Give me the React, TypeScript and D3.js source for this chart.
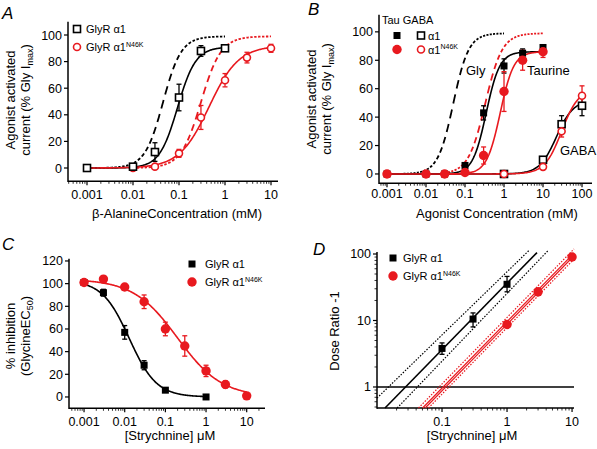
import React from 'react';
import * as d3 from 'd3';

const RED = '#e8191f';
const FONT = '"Liberation Sans", Arial, Helvetica, sans-serif';

// ---------- Panel A: beta-alanine ----------
const aWtConc = [0.001, 0.01, 0.03, 0.1, 0.3, 1];
const aWtMean = [0, 1, 12, 53, 88, 90];
const aWtErr = [0.5, 1.5, 7, 10, 4, 2];
const aMutConc = [0.01, 0.03, 0.1, 0.3, 1, 3, 10];
const aMutMean = [0, 1, 11, 38, 66, 83, 90];
const aMutErr = [1, 1, 3, 9, 5, 4, 3];
// hill fits: [bottom, top, EC50, nH]
const aWtFit = [0, 91, 0.093, 2.2];
const aMutFit = [0, 92, 0.45, 1.35];
const aWtGly = [0, 99, 0.045, 2.2];
const aMutGly = [0, 99, 0.3, 2.0];

// ---------- Panel B: taurine / GABA ----------
const bTauConc = [0.001, 0.01, 0.03, 0.1, 0.3, 1, 3, 10];
const bTauWtMean = [0, 0, 0, 6, 43, 76, 85, 89];
const bTauWtErr = [0.5, 0.5, 0.5, 1, 5, 5, 3, 2];
const bTauMutMean = [0, 0, 0, 1, 13, 58, 80, 86];
const bTauMutErr = [0.5, 0.5, 0.5, 1, 6, 14, 7, 4];
const bGabaConc = [1, 10, 30, 100];
const bGabaWtMean = [0, 10, 35, 48];
const bGabaWtErr = [0.5, 2, 6, 7];
const bGabaMutMean = [0, 5, 30, 55];
const bGabaMutErr = [0.5, 1, 4, 7];
const bTauWtFit = [0, 86, 0.35, 2.5];
const bTauMutFit = [0, 86, 0.8, 2.5];
const bGabaWtFit = [0, 52, 22, 2.0];
const bGabaMutFit = [0, 60, 30, 2.0];
const bWtGly = [0, 99, 0.05, 2.2];
const bMutGly = [0, 99, 0.33, 2.0];

// ---------- Panel C: strychnine inhibition ----------
const cWtConc = [0.001, 0.003, 0.01, 0.03, 0.1, 1];
const cWtMean = [101, 92, 57, 28, 6, 0];
const cWtErr = [1, 3, 6, 4, 1, 1];
const cMutConc = [0.001, 0.003, 0.01, 0.03, 0.1, 0.3, 1, 3, 10];
const cMutMean = [101, 104, 97, 84, 60, 45, 23, 11, 1];
const cMutErr = [1, 1, 2, 6, 6, 9, 5, 3, 1];
const cWtFit = [103, 0, 0.013, 1.3];
const cMutFit = [104, 0, 0.2, 0.8];

// ---------- Panel D: Schild plot ----------
const dWtConc = [0.1, 0.3, 1];
const dWtMean = [3.8, 10.5, 35];
const dWtLo = [3.1, 8, 27];
const dWtHi = [4.6, 13, 46];
const dMutConc = [1, 3, 10];
const dMutMean = [8.7, 27, 90];
// Schild lines: [K, slope, yEnd]
const dWtLine = [0.0275, 1.0, 105];
const dWtBandLo = [0.015, 0.95, 115];
const dWtBandHi = [0.0417, 1.02, 115];
const dMutLine = [0.104, 1.0, 120];
const dMutLine2 = [0.114, 1.0, 120];
const dMutBandLo = [0.09, 1.0, 120];
const dMutBandHi = [0.128, 1.0, 120];

const xTicksA = [0.001, 0.01, 0.1, 1, 10];
const xTicksB = [0.001, 0.01, 0.1, 1, 10, 100];
const xTicksC = [0.001, 0.01, 0.1, 1, 10];
const xTicksD = [0.1, 1, 10];
const yTicksAB = [0, 20, 40, 60, 80, 100];
const yTicksC = [0, 20, 40, 60, 80, 100, 120];
const yTicksD = [1, 10, 100];

type S = any;

function hill(x: number, p: number[]) {
  const [b, t, ec, n] = p;
  const xn = Math.pow(x, n);
  return b + (t - b) * xn / (xn + Math.pow(ec, n));
}

function curvePath(x: S, y: S, p: number[], lo: number, hi: number) {
  const l0 = Math.log10(lo), l1 = Math.log10(hi);
  const N = 240;
  const pts = d3.range(N + 1).map(i => {
    const v = Math.pow(10, l0 + (l1 - l0) * i / N);
    return [x(v), y(hill(v, p))] as [number, number];
  });
  return d3.line()(pts) || '';
}

function dashedPath(x: S, y: S, p: number[], lo: number, hi: number, period = 0.085, frac = 0.6) {
  const l0 = Math.log10(lo), l1 = Math.log10(hi);
  let d = '';
  for (let t = l0; t < l1; t += period) {
    const e = Math.min(t + period * frac, l1);
    const pts = d3.range(9).map(i => {
      const v = Math.pow(10, t + (e - t) * i / 8);
      return [x(v), y(hill(v, p))] as [number, number];
    });
    d += d3.line()(pts);
  }
  return d;
}

function schildPath(x: S, y: S, p: number[]) {
  const [K, s, yEnd] = p;
  const [xmin, xmax] = x.domain();
  const [ymin] = y.domain();
  let x0 = K * Math.pow(ymin, 1 / s);
  if (x0 < xmin) x0 = xmin;
  let x1 = K * Math.pow(yEnd, 1 / s);
  if (x1 > xmax) x1 = xmax;
  const f = (v: number) => Math.pow(v / K, s);
  return d3.line()([[x(x0), y(f(x0))], [x(x1), y(f(x1))]]) || '';
}

function minorLog(domain: number[]) {
  const out: number[] = [];
  const lo = Math.floor(Math.log10(domain[0])), hi = Math.ceil(Math.log10(domain[1]));
  for (let e = lo; e <= hi; e++) {
    for (let m = 2; m <= 9; m++) {
      const v = m * Math.pow(10, e);
      if (v >= domain[0] && v <= domain[1]) out.push(v);
    }
  }
  return out;
}

const fmt = (v: number) => (v < 1 ? String(v) : d3.format('d')(v));

function Axes({ x, y, xTicks, yTicks, xMinor, yMinor, fs = 12.5, xOff = 17.5 }: any) {
  const [x0, x1] = x.range();
  const [y0, y1] = y.range();
  return (
    <g stroke="#000" strokeWidth={1.5} fill="none">
      <line x1={x0} x2={x1} y1={y0} y2={y0} />
      <line x1={x0} x2={x0} y1={y0 + 0.75} y2={y1} />
      {xTicks.map((t: number) => (
        <line key={'xt' + t} x1={x(t)} x2={x(t)} y1={y0} y2={y0 + 4} strokeWidth={1.2} />
      ))}
      {(xMinor || []).map((t: number) => (
        <line key={'xm' + t} x1={x(t)} x2={x(t)} y1={y0} y2={y0 + 2.5} strokeWidth={0.8} />
      ))}
      {yTicks.map((t: number) => (
        <line key={'yt' + t} x1={x0 - 4} x2={x0} y1={y(t)} y2={y(t)} strokeWidth={1.2} />
      ))}
      {(yMinor || []).map((t: number) => (
        <line key={'ym' + t} x1={x0 - 2.5} x2={x0} y1={y(t)} y2={y(t)} strokeWidth={0.8} />
      ))}
      <g stroke="none" fill="#000" fontSize={fs} fontFamily={FONT}>
        {xTicks.map((t: number) => (
          <text key={'xl' + t} x={x(t)} y={y0 + xOff} textAnchor="middle">{fmt(t)}</text>
        ))}
        {yTicks.map((t: number) => (
          <text key={'yl' + t} x={x0 - 6} y={y(t) + 4.5} textAnchor="end">{fmt(t)}</text>
        ))}
      </g>
    </g>
  );
}

function ErrBars({ x, y, xs, lo, hi, color }: any) {
  return (
    <g stroke={color} strokeWidth={1.3}>
      {xs.map((v: number, i: number) => {
        const cx = x(v);
        return (
          <g key={i}>
            <line x1={cx} x2={cx} y1={y(lo[i])} y2={y(hi[i])} />
            <line x1={cx - 2.5} x2={cx + 2.5} y1={y(lo[i])} y2={y(lo[i])} />
            <line x1={cx - 2.5} x2={cx + 2.5} y1={y(hi[i])} y2={y(hi[i])} />
          </g>
        );
      })}
    </g>
  );
}

function Markers({ x, y, xs, ys, shape, color, open, size = 6.5 }: any) {
  return (
    <g>
      {xs.map((v: number, i: number) => {
        const cx = x(v), cy = y(ys[i]);
        if (shape === 'square') {
          return (
            <rect key={i} x={cx - size / 2} y={cy - size / 2} width={size} height={size}
              fill={open ? '#fff' : color} stroke={color} strokeWidth={open ? 1.6 : 0} />
          );
        }
        return (
          <circle key={i} cx={cx} cy={cy} r={open ? size / 2 : size / 2 + 0.7}
            fill={open ? '#fff' : color} stroke={color} strokeWidth={open ? 1.6 : 0} />
        );
      })}
    </g>
  );
}

const pm = (m: number[], e: number[], sgn: number) => m.map((v, i) => v + sgn * e[i]);

function Sup() {
  return (
    <>
      <tspan>GlyR α1</tspan>
      <tspan dy={-4.5} fontSize={7}>N46K</tspan>
    </>
  );
}

export default function App() {
  // Panel A scales
  const xA = d3.scaleLog().domain([Math.pow(10, -3.413), Math.pow(10, 1.152)]).range([68, 278]);
  const yA = d3.scaleLinear().domain([-10, 110]).range([181.3, 21.7]);
  // Panel B
  const xB = d3.scaleLog().domain([Math.pow(10, -3.205), Math.pow(10, 2.256)]).range([379, 592]);
  const yB = d3.scaleLinear().domain([-6.5, 112]).range([183.2, 14.8]);
  // Panel C
  const xC = d3.scaleLog().domain([Math.pow(10, -3.37), Math.pow(10, 1.45)]).range([69, 265]);
  const yC = d3.scaleLinear().domain([-10, 122]).range([408.3, 258.7]);
  // Panel D
  const xD = d3.scaleLog().domain([0.01, Math.pow(10, 1.03)]).range([377, 574]);
  const yD = d3.scaleLog().domain([Math.pow(10, -0.316), Math.pow(10, 2.03)]).range([408, 252]);

  const textBase = { fontFamily: FONT, fill: '#000' };

  return (
    <svg width={597} height={449} style={{ position: 'absolute', left: 0, top: 0, background: '#fff' }}>
      <rect width={597} height={449} fill="#fff" />

      {/* ================= Panel A ================= */}
      <g>
        <text x={2} y={19} fontSize={17} fontStyle="italic" {...textBase}>A</text>
        <Axes x={xA} y={yA} xTicks={xTicksA} yTicks={yTicksAB} xMinor={minorLog(xA.domain())} xOff={18} />
        <g fill="none" strokeWidth={1.6}>
          <path d={dashedPath(xA, yA, aWtGly, 0.001, 1)} stroke="#000" strokeWidth={1.8} />
          <path d={dashedPath(xA, yA, aMutGly, 0.01, 10)} stroke={RED} strokeWidth={1.8} />
          <path d={curvePath(xA, yA, aWtFit, 0.001, 1)} stroke="#000" />
          <path d={curvePath(xA, yA, aMutFit, 0.001, 10)} stroke={RED} />
        </g>
        <ErrBars x={xA} y={yA} xs={aMutConc} lo={pm(aMutMean, aMutErr, -1)} hi={pm(aMutMean, aMutErr, 1)} color={RED} />
        <ErrBars x={xA} y={yA} xs={aWtConc} lo={pm(aWtMean, aWtErr, -1)} hi={pm(aWtMean, aWtErr, 1)} color="#000" />
        <Markers x={xA} y={yA} xs={aMutConc} ys={aMutMean} shape="circle" color={RED} open size={7} />
        <Markers x={xA} y={yA} xs={aWtConc} ys={aWtMean} shape="square" color="#000" open size={7} />
        {/* legend */}
        <rect x={73.5} y={25.5} width={7} height={7} fill="#fff" stroke="#000" strokeWidth={1.6} />
        <circle cx={77} cy={47} r={3.5} fill="#fff" stroke={RED} strokeWidth={1.6} />
        <text x={86} y={32.5} fontSize={11} {...textBase}>GlyR α1</text>
        <text x={86} y={51} fontSize={11} {...textBase}><Sup /></text>
        {/* y title */}
        <text transform="translate(15,100) rotate(-90)" textAnchor="middle" fontSize={13} {...textBase}>Agonist activated</text>
        <text transform="translate(30,100) rotate(-90)" textAnchor="middle" fontSize={13} {...textBase}>
          current (% Gly I<tspan dy={2.5} fontSize={9}>max</tspan><tspan dy={-2.5}>)</tspan>
        </text>
        <text x={177} y={218} textAnchor="middle" fontSize={13} {...textBase}>β-AlanineConcentration (mM)</text>
      </g>

      {/* ================= Panel B ================= */}
      <g>
        <text x={308} y={15} fontSize={17} fontStyle="italic" {...textBase}>B</text>
        <Axes x={xB} y={yB} xTicks={xTicksB} yTicks={yTicksAB} xMinor={minorLog(xB.domain())} xOff={15} />
        <g fill="none" strokeWidth={1.6}>
          <path d={dashedPath(xB, yB, bWtGly, 0.001, 1)} stroke="#000" strokeWidth={1.8} />
          <path d={dashedPath(xB, yB, bMutGly, 0.03, 10)} stroke={RED} strokeWidth={1.8} />
          <path d={curvePath(xB, yB, bGabaWtFit, 0.001, 100)} stroke="#000" />
          <path d={curvePath(xB, yB, bGabaMutFit, 0.001, 100)} stroke={RED} />
          <path d={curvePath(xB, yB, bTauWtFit, 0.001, 10)} stroke="#000" />
          <path d={curvePath(xB, yB, bTauMutFit, 0.001, 10)} stroke={RED} />
        </g>
        <ErrBars x={xB} y={yB} xs={bGabaConc} lo={pm(bGabaWtMean, bGabaWtErr, -1)} hi={pm(bGabaWtMean, bGabaWtErr, 1)} color="#000" />
        <ErrBars x={xB} y={yB} xs={bGabaConc} lo={pm(bGabaMutMean, bGabaMutErr, -1)} hi={pm(bGabaMutMean, bGabaMutErr, 1)} color={RED} />
        <ErrBars x={xB} y={yB} xs={bTauConc} lo={pm(bTauWtMean, bTauWtErr, -1)} hi={pm(bTauWtMean, bTauWtErr, 1)} color="#000" />
        <ErrBars x={xB} y={yB} xs={bTauConc} lo={pm(bTauMutMean, bTauMutErr, -1)} hi={pm(bTauMutMean, bTauMutErr, 1)} color={RED} />
        <Markers x={xB} y={yB} xs={bGabaConc} ys={bGabaWtMean} shape="square" color="#000" open size={7} />
        <Markers x={xB} y={yB} xs={bGabaConc} ys={bGabaMutMean} shape="circle" color={RED} open size={7} />
        <Markers x={xB} y={yB} xs={bTauConc} ys={bTauWtMean} shape="square" color="#000" size={7} />
        <Markers x={xB} y={yB} xs={bTauConc} ys={bTauMutMean} shape="circle" color={RED} size={8} />
        {/* legend */}
        <text x={382} y={24} fontSize={11} {...textBase}>Tau GABA</text>
        <rect x={393.5} y={32} width={7} height={7} fill="#000" />
        <rect x={417.5} y={32} width={7} height={7} fill="#fff" stroke="#000" strokeWidth={1.6} />
        <text x={428} y={39.5} fontSize={11} {...textBase}>α1</text>
        <circle cx={397} cy={49.5} r={4.7} fill={RED} />
        <circle cx={421} cy={49.5} r={3.5} fill="#fff" stroke={RED} strokeWidth={1.6} />
        <text x={428} y={53.5} fontSize={11} {...textBase}>α1<tspan dy={-4.5} fontSize={7}>N46K</tspan></text>
        {/* annotations */}
        <text x={466} y={75} fontSize={13} {...textBase}>Gly</text>
        <text x={527} y={75} fontSize={13} {...textBase}>Taurine</text>
        <text x={560} y={155} fontSize={13} {...textBase}>GABA</text>
        {/* titles */}
        <text transform="translate(315.5,99) rotate(-90)" textAnchor="middle" fontSize={13} {...textBase}>Agonist activated</text>
        <text transform="translate(331,99) rotate(-90)" textAnchor="middle" fontSize={13} {...textBase}>
          current (% Gly I<tspan dy={2.5} fontSize={9}>max</tspan><tspan dy={-2.5}>)</tspan>
        </text>
        <text x={497} y={217.5} textAnchor="middle" fontSize={13} {...textBase}>Agonist Concentration (mM)</text>
      </g>

      {/* ================= Panel C ================= */}
      <g>
        <text x={2} y={250} fontSize={17} fontStyle="italic" {...textBase}>C</text>
        <Axes x={xC} y={yC} xTicks={xTicksC} yTicks={yTicksC} xMinor={minorLog(xC.domain())} />
        <g fill="none" strokeWidth={1.6}>
          <path d={curvePath(xC, yC, cWtFit, 0.001, 1)} stroke="#000" />
          <path d={curvePath(xC, yC, cMutFit, 0.001, 10)} stroke={RED} />
        </g>
        <ErrBars x={xC} y={yC} xs={cWtConc} lo={pm(cWtMean, cWtErr, -1)} hi={pm(cWtMean, cWtErr, 1)} color="#000" />
        <ErrBars x={xC} y={yC} xs={cMutConc} lo={pm(cMutMean, cMutErr, -1)} hi={pm(cMutMean, cMutErr, 1)} color={RED} />
        <Markers x={xC} y={yC} xs={cWtConc} ys={cWtMean} shape="square" color="#000" size={7} />
        <Markers x={xC} y={yC} xs={cMutConc} ys={cMutMean} shape="circle" color={RED} size={8} />
        {/* legend */}
        <rect x={188.5} y={260.5} width={7} height={7} fill="#000" />
        <circle cx={192} cy={282} r={4.7} fill={RED} />
        <text x={205} y={268} fontSize={11} {...textBase}>GlyR α1</text>
        <text x={205} y={286} fontSize={11} {...textBase}><Sup /></text>
        {/* titles */}
        <text transform="translate(15,336) rotate(-90)" textAnchor="middle" fontSize={13} {...textBase}>% inhibition</text>
        <text transform="translate(30,336) rotate(-90)" textAnchor="middle" fontSize={13} {...textBase}>
          (GlycineEC<tspan dy={2.5} fontSize={9}>50</tspan><tspan dy={-2.5}>)</tspan>
        </text>
        <text x={170} y={440} textAnchor="middle" fontSize={13} {...textBase}>[Strychnine] μM</text>
      </g>

      {/* ================= Panel D ================= */}
      <g>
        <text x={313} y={255} fontSize={17} fontStyle="italic" {...textBase}>D</text>
        <Axes x={xD} y={yD} xTicks={xTicksD} yTicks={yTicksD} xMinor={minorLog(xD.domain())} yMinor={minorLog(yD.domain())} />
        <line x1={xD.range()[0]} x2={xD.range()[1]} y1={yD(1)} y2={yD(1)} stroke="#000" strokeWidth={1.5} />
        <g fill="none">
          <path d={schildPath(xD, yD, dWtBandLo)} stroke="#000" strokeWidth={1.2} strokeDasharray="1.5,1.5" />
          <path d={schildPath(xD, yD, dWtBandHi)} stroke="#000" strokeWidth={1.2} strokeDasharray="1.5,1.5" />
          <path d={schildPath(xD, yD, dWtLine)} stroke="#000" strokeWidth={1.6} />
          <path d={schildPath(xD, yD, dMutBandLo)} stroke={RED} strokeWidth={1.2} strokeDasharray="1.5,1.5" />
          <path d={schildPath(xD, yD, dMutBandHi)} stroke={RED} strokeWidth={1.2} strokeDasharray="1.5,1.5" />
          <path d={schildPath(xD, yD, dMutLine)} stroke={RED} strokeWidth={1.2} />
          <path d={schildPath(xD, yD, dMutLine2)} stroke={RED} strokeWidth={1.2} />
        </g>
        <ErrBars x={xD} y={yD} xs={dWtConc} lo={dWtLo} hi={dWtHi} color="#000" />
        <Markers x={xD} y={yD} xs={dWtConc} ys={dWtMean} shape="square" color="#000" size={7} />
        <Markers x={xD} y={yD} xs={dMutConc} ys={dMutMean} shape="circle" color={RED} size={8} />
        {/* legend */}
        <rect x={389.5} y={254.5} width={7} height={7} fill="#000" />
        <circle cx={393} cy={276} r={4.7} fill={RED} />
        <text x={403} y={262} fontSize={11} {...textBase}>GlyR α1</text>
        <text x={403} y={280} fontSize={11} {...textBase}><Sup /></text>
        {/* titles */}
        <text transform="translate(339,331) rotate(-90)" textAnchor="middle" fontSize={13} {...textBase}>Dose Ratio -1</text>
        <text x={472} y={440} textAnchor="middle" fontSize={13} {...textBase}>[Strychnine] μM</text>
      </g>
    </svg>
  );
}
